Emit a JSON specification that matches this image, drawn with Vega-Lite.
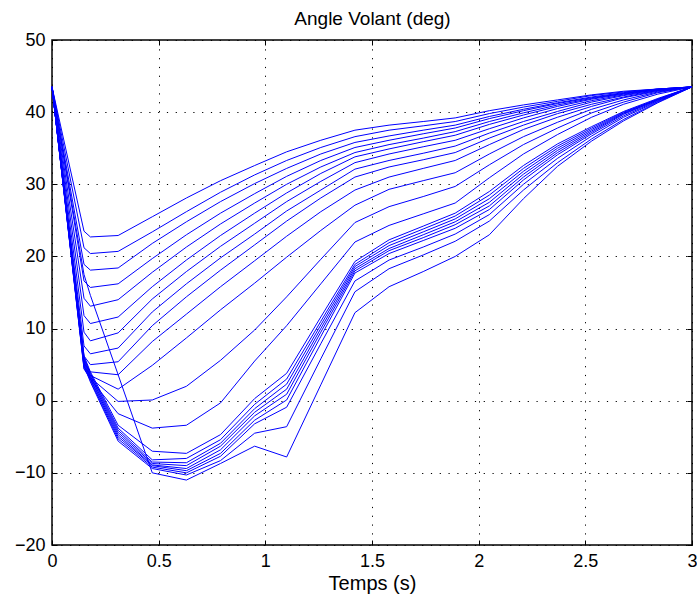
{
"$schema":"https://vega.github.io/schema/vega-lite/v6.json",
"width":640,"height":505,
"autosize":{"type":"none"},
"padding":{"left":52,"top":40,"right":5,"bottom":56},
"background":"white",
"config":{
 "view":{"stroke":"black","strokeWidth":1.5},
 "axis":{"labelFont":"Liberation Sans","labelFontSize":18,"labelColor":"black","titleFont":"Liberation Sans","titleFontSize":20,"titleFontWeight":"normal","titleColor":"black","tickColor":"black","tickSize":-5,"tickWidth":1,"domain":false,"gridColor":"black","gridDash":[1.2,7.6],"gridOpacity":1,"gridWidth":1}
},
"data":{"values":[
{"c":1,"t":0,"v":43.5},{"c":1,"t":0.15,"v":23.5},{"c":1,"t":0.18,"v":22.7},{"c":1,"t":0.31,"v":22.9},{"c":1,"t":0.47,"v":25.5},{"c":1,"t":0.63,"v":28.1},{"c":1,"t":0.79,"v":30.5},{"c":1,"t":0.95,"v":32.6},{"c":1,"t":1.1,"v":34.5},{"c":1,"t":1.26,"v":36.1},{"c":1,"t":1.42,"v":37.5},{"c":1,"t":1.58,"v":38.2},{"c":1,"t":1.74,"v":38.7},{"c":1,"t":1.89,"v":39.2},{"c":1,"t":2.05,"v":40.2},{"c":1,"t":2.21,"v":41.0},{"c":1,"t":2.37,"v":41.7},{"c":1,"t":2.53,"v":42.4},{"c":1,"t":2.68,"v":42.9},{"c":1,"t":2.84,"v":43.2},{"c":1,"t":3,"v":43.5},
{"c":2,"t":0,"v":43.5},{"c":2,"t":0.15,"v":21.2},{"c":2,"t":0.18,"v":20.4},{"c":2,"t":0.31,"v":20.7},{"c":2,"t":0.47,"v":23.4},{"c":2,"t":0.63,"v":26.2},{"c":2,"t":0.79,"v":28.9},{"c":2,"t":0.95,"v":31.3},{"c":2,"t":1.1,"v":33.3},{"c":2,"t":1.26,"v":35.1},{"c":2,"t":1.42,"v":36.6},{"c":2,"t":1.58,"v":37.5},{"c":2,"t":1.74,"v":38.1},{"c":2,"t":1.89,"v":38.7},{"c":2,"t":2.05,"v":39.8},{"c":2,"t":2.21,"v":40.7},{"c":2,"t":2.37,"v":41.5},{"c":2,"t":2.53,"v":42.3},{"c":2,"t":2.68,"v":42.8},{"c":2,"t":2.84,"v":43.2},{"c":2,"t":3,"v":43.5},
{"c":3,"t":0,"v":43.5},{"c":3,"t":0.15,"v":18.9},{"c":3,"t":0.18,"v":18.1},{"c":3,"t":0.31,"v":18.4},{"c":3,"t":0.47,"v":21.8},{"c":3,"t":0.63,"v":24.8},{"c":3,"t":0.79,"v":27.6},{"c":3,"t":0.95,"v":30.1},{"c":3,"t":1.1,"v":32.2},{"c":3,"t":1.26,"v":34.2},{"c":3,"t":1.42,"v":35.8},{"c":3,"t":1.58,"v":36.7},{"c":3,"t":1.74,"v":37.5},{"c":3,"t":1.89,"v":38.2},{"c":3,"t":2.05,"v":39.4},{"c":3,"t":2.21,"v":40.4},{"c":3,"t":2.37,"v":41.3},{"c":3,"t":2.53,"v":42.1},{"c":3,"t":2.68,"v":42.7},{"c":3,"t":2.84,"v":43.2},{"c":3,"t":3,"v":43.5},
{"c":4,"t":0,"v":43.5},{"c":4,"t":0.15,"v":16.6},{"c":4,"t":0.18,"v":15.7},{"c":4,"t":0.31,"v":16.2},{"c":4,"t":0.47,"v":19.7},{"c":4,"t":0.63,"v":23.0},{"c":4,"t":0.79,"v":26.0},{"c":4,"t":0.95,"v":28.7},{"c":4,"t":1.1,"v":31.1},{"c":4,"t":1.26,"v":33.3},{"c":4,"t":1.42,"v":35.1},{"c":4,"t":1.58,"v":36.1},{"c":4,"t":1.74,"v":37.0},{"c":4,"t":1.89,"v":37.8},{"c":4,"t":2.05,"v":39.1},{"c":4,"t":2.21,"v":40.2},{"c":4,"t":2.37,"v":41.2},{"c":4,"t":2.53,"v":42.0},{"c":4,"t":2.68,"v":42.6},{"c":4,"t":2.84,"v":43.2},{"c":4,"t":3,"v":43.5},
{"c":5,"t":0,"v":43.5},{"c":5,"t":0.15,"v":14.2},{"c":5,"t":0.18,"v":13.1},{"c":5,"t":0.31,"v":14.0},{"c":5,"t":0.47,"v":17.8},{"c":5,"t":0.63,"v":21.3},{"c":5,"t":0.79,"v":24.5},{"c":5,"t":0.95,"v":27.4},{"c":5,"t":1.1,"v":30.0},{"c":5,"t":1.26,"v":32.4},{"c":5,"t":1.42,"v":34.4},{"c":5,"t":1.58,"v":35.5},{"c":5,"t":1.74,"v":36.4},{"c":5,"t":1.89,"v":37.3},{"c":5,"t":2.05,"v":38.7},{"c":5,"t":2.21,"v":39.9},{"c":5,"t":2.37,"v":41.0},{"c":5,"t":2.53,"v":41.9},{"c":5,"t":2.68,"v":42.6},{"c":5,"t":2.84,"v":43.1},{"c":5,"t":3,"v":43.5},
{"c":6,"t":0,"v":43.5},{"c":6,"t":0.15,"v":11.8},{"c":6,"t":0.18,"v":10.7},{"c":6,"t":0.31,"v":11.6},{"c":6,"t":0.47,"v":15.8},{"c":6,"t":0.63,"v":19.5},{"c":6,"t":0.79,"v":22.9},{"c":6,"t":0.95,"v":26.0},{"c":6,"t":1.1,"v":28.8},{"c":6,"t":1.26,"v":31.5},{"c":6,"t":1.42,"v":33.8},{"c":6,"t":1.58,"v":34.9},{"c":6,"t":1.74,"v":35.9},{"c":6,"t":1.89,"v":36.8},{"c":6,"t":2.05,"v":38.3},{"c":6,"t":2.21,"v":39.6},{"c":6,"t":2.37,"v":40.8},{"c":6,"t":2.53,"v":41.8},{"c":6,"t":2.68,"v":42.5},{"c":6,"t":2.84,"v":43.1},{"c":6,"t":3,"v":43.5},
{"c":7,"t":0,"v":43.5},{"c":7,"t":0.15,"v":9.5},{"c":7,"t":0.18,"v":8.3},{"c":7,"t":0.31,"v":9.4},{"c":7,"t":0.47,"v":14.1},{"c":7,"t":0.63,"v":17.9},{"c":7,"t":0.79,"v":21.4},{"c":7,"t":0.95,"v":24.6},{"c":7,"t":1.1,"v":27.6},{"c":7,"t":1.26,"v":30.4},{"c":7,"t":1.42,"v":33.0},{"c":7,"t":1.58,"v":34.2},{"c":7,"t":1.74,"v":35.2},{"c":7,"t":1.89,"v":36.1},{"c":7,"t":2.05,"v":37.7},{"c":7,"t":2.21,"v":39.2},{"c":7,"t":2.37,"v":40.5},{"c":7,"t":2.53,"v":41.6},{"c":7,"t":2.68,"v":42.4},{"c":7,"t":2.84,"v":43.1},{"c":7,"t":3,"v":43.5},
{"c":8,"t":0,"v":43.5},{"c":8,"t":0.15,"v":7.6},{"c":8,"t":0.18,"v":6.5},{"c":8,"t":0.31,"v":7.3},{"c":8,"t":0.47,"v":12.3},{"c":8,"t":0.63,"v":16.2},{"c":8,"t":0.79,"v":19.8},{"c":8,"t":0.95,"v":23.1},{"c":8,"t":1.1,"v":26.3},{"c":8,"t":1.26,"v":29.2},{"c":8,"t":1.42,"v":32.1},{"c":8,"t":1.58,"v":33.3},{"c":8,"t":1.74,"v":34.3},{"c":8,"t":1.89,"v":35.3},{"c":8,"t":2.05,"v":37.1},{"c":8,"t":2.21,"v":38.7},{"c":8,"t":2.37,"v":40.1},{"c":8,"t":2.53,"v":41.4},{"c":8,"t":2.68,"v":42.3},{"c":8,"t":2.84,"v":43.0},{"c":8,"t":3,"v":43.5},
{"c":9,"t":0,"v":43.5},{"c":9,"t":0.15,"v":6.2},{"c":9,"t":0.18,"v":5.0},{"c":9,"t":0.31,"v":5.4},{"c":9,"t":0.47,"v":10.4},{"c":9,"t":0.63,"v":14.4},{"c":9,"t":0.79,"v":18.1},{"c":9,"t":0.95,"v":21.6},{"c":9,"t":1.1,"v":24.9},{"c":9,"t":1.26,"v":28.1},{"c":9,"t":1.42,"v":31.0},{"c":9,"t":1.58,"v":32.4},{"c":9,"t":1.74,"v":33.4},{"c":9,"t":1.89,"v":34.4},{"c":9,"t":2.05,"v":36.4},{"c":9,"t":2.21,"v":38.2},{"c":9,"t":2.37,"v":39.8},{"c":9,"t":2.53,"v":41.1},{"c":9,"t":2.68,"v":42.1},{"c":9,"t":2.84,"v":43.0},{"c":9,"t":3,"v":43.5},
{"c":10,"t":0,"v":43.5},{"c":10,"t":0.15,"v":5.2},{"c":10,"t":0.18,"v":4.0},{"c":10,"t":0.31,"v":3.6},{"c":10,"t":0.47,"v":8.2},{"c":10,"t":0.63,"v":12.0},{"c":10,"t":0.79,"v":15.8},{"c":10,"t":0.95,"v":19.4},{"c":10,"t":1.1,"v":22.8},{"c":10,"t":1.26,"v":26.2},{"c":10,"t":1.42,"v":29.2},{"c":10,"t":1.58,"v":31.0},{"c":10,"t":1.74,"v":32.2},{"c":10,"t":1.89,"v":33.3},{"c":10,"t":2.05,"v":35.5},{"c":10,"t":2.21,"v":37.6},{"c":10,"t":2.37,"v":39.3},{"c":10,"t":2.53,"v":40.8},{"c":10,"t":2.68,"v":42.0},{"c":10,"t":2.84,"v":42.9},{"c":10,"t":3,"v":43.5},
{"c":11,"t":0,"v":43.5},{"c":11,"t":0.15,"v":4.7},{"c":11,"t":0.18,"v":3.5},{"c":11,"t":0.31,"v":1.6},{"c":11,"t":0.47,"v":4.9},{"c":11,"t":0.63,"v":8.7},{"c":11,"t":0.79,"v":12.6},{"c":11,"t":0.95,"v":16.3},{"c":11,"t":1.1,"v":19.9},{"c":11,"t":1.26,"v":23.6},{"c":11,"t":1.42,"v":27.1},{"c":11,"t":1.58,"v":29.3},{"c":11,"t":1.74,"v":30.5},{"c":11,"t":1.89,"v":31.6},{"c":11,"t":2.05,"v":34.2},{"c":11,"t":2.21,"v":36.6},{"c":11,"t":2.37,"v":38.6},{"c":11,"t":2.53,"v":40.4},{"c":11,"t":2.68,"v":41.7},{"c":11,"t":2.84,"v":42.8},{"c":11,"t":3,"v":43.5},
{"c":12,"t":0,"v":43.5},{"c":12,"t":0.15,"v":4.5},{"c":12,"t":0.18,"v":3.2},{"c":12,"t":0.31,"v":-0.1},{"c":12,"t":0.47,"v":0.1},{"c":12,"t":0.63,"v":2.0},{"c":12,"t":0.79,"v":5.6},{"c":12,"t":0.95,"v":9.8},{"c":12,"t":1.1,"v":14.4},{"c":12,"t":1.26,"v":19.6},{"c":12,"t":1.42,"v":24.7},{"c":12,"t":1.58,"v":26.9},{"c":12,"t":1.74,"v":28.3},{"c":12,"t":1.89,"v":29.7},{"c":12,"t":2.05,"v":32.7},{"c":12,"t":2.21,"v":35.5},{"c":12,"t":2.37,"v":37.8},{"c":12,"t":2.53,"v":39.9},{"c":12,"t":2.68,"v":41.4},{"c":12,"t":2.84,"v":42.7},{"c":12,"t":3,"v":43.5},
{"c":13,"t":0,"v":43.5},{"c":13,"t":0.15,"v":4.4},{"c":13,"t":0.18,"v":3.0},{"c":13,"t":0.31,"v":-1.8},{"c":13,"t":0.47,"v":-3.8},{"c":13,"t":0.63,"v":-3.4},{"c":13,"t":0.79,"v":-0.3},{"c":13,"t":0.95,"v":5.5},{"c":13,"t":1.1,"v":10.4},{"c":13,"t":1.26,"v":16.2},{"c":13,"t":1.42,"v":22.0},{"c":13,"t":1.58,"v":24.3},{"c":13,"t":1.74,"v":25.9},{"c":13,"t":1.89,"v":27.4},{"c":13,"t":2.05,"v":30.9},{"c":13,"t":2.21,"v":34.2},{"c":13,"t":2.37,"v":36.9},{"c":13,"t":2.53,"v":39.3},{"c":13,"t":2.68,"v":41.1},{"c":13,"t":2.84,"v":42.5},{"c":13,"t":3,"v":43.5},
{"c":14,"t":0,"v":43.5},{"c":14,"t":0.15,"v":6.2},{"c":14,"t":0.18,"v":4.0},{"c":14,"t":0.31,"v":-3.4},{"c":14,"t":0.47,"v":-7.0},{"c":14,"t":0.63,"v":-7.3},{"c":14,"t":0.79,"v":-4.7},{"c":14,"t":0.95,"v":0.3},{"c":14,"t":1.1,"v":3.8},{"c":14,"t":1.26,"v":11.6},{"c":14,"t":1.42,"v":19.3},{"c":14,"t":1.58,"v":22.3},{"c":14,"t":1.74,"v":24.2},{"c":14,"t":1.89,"v":26.0},{"c":14,"t":2.05,"v":29.0},{"c":14,"t":2.21,"v":32.6},{"c":14,"t":2.37,"v":35.6},{"c":14,"t":2.53,"v":38.0},{"c":14,"t":2.68,"v":40.1},{"c":14,"t":2.84,"v":41.9},{"c":14,"t":3,"v":43.5},
{"c":15,"t":0,"v":43.5},{"c":15,"t":0.15,"v":6.0},{"c":15,"t":0.18,"v":3.8},{"c":15,"t":0.31,"v":-3.8},{"c":15,"t":0.47,"v":-8.2},{"c":15,"t":0.63,"v":-8.0},{"c":15,"t":0.79,"v":-5.4},{"c":15,"t":0.95,"v":-0.5},{"c":15,"t":1.1,"v":3.0},{"c":15,"t":1.26,"v":11.0},{"c":15,"t":1.42,"v":18.9},{"c":15,"t":1.58,"v":21.9},{"c":15,"t":1.74,"v":23.8},{"c":15,"t":1.89,"v":25.6},{"c":15,"t":2.05,"v":28.5},{"c":15,"t":2.21,"v":32.2},{"c":15,"t":2.37,"v":35.3},{"c":15,"t":2.53,"v":37.8},{"c":15,"t":2.68,"v":40.0},{"c":15,"t":2.84,"v":41.8},{"c":15,"t":3,"v":43.5},
{"c":16,"t":0,"v":43.5},{"c":16,"t":0.15,"v":5.8},{"c":16,"t":0.18,"v":3.6},{"c":16,"t":0.31,"v":-4.1},{"c":16,"t":0.47,"v":-8.5},{"c":16,"t":0.63,"v":-8.6},{"c":16,"t":0.79,"v":-5.9},{"c":16,"t":0.95,"v":-1.1},{"c":16,"t":1.1,"v":2.3},{"c":16,"t":1.26,"v":10.5},{"c":16,"t":1.42,"v":18.6},{"c":16,"t":1.58,"v":21.5},{"c":16,"t":1.74,"v":23.4},{"c":16,"t":1.89,"v":25.2},{"c":16,"t":2.05,"v":28.0},{"c":16,"t":2.21,"v":31.8},{"c":16,"t":2.37,"v":35.0},{"c":16,"t":2.53,"v":37.6},{"c":16,"t":2.68,"v":39.9},{"c":16,"t":2.84,"v":41.8},{"c":16,"t":3,"v":43.5},
{"c":17,"t":0,"v":43.5},{"c":17,"t":0.15,"v":5.6},{"c":17,"t":0.18,"v":3.4},{"c":17,"t":0.31,"v":-4.4},{"c":17,"t":0.47,"v":-8.7},{"c":17,"t":0.63,"v":-9.0},{"c":17,"t":0.79,"v":-6.3},{"c":17,"t":0.95,"v":-1.6},{"c":17,"t":1.1,"v":1.6},{"c":17,"t":1.26,"v":10.0},{"c":17,"t":1.42,"v":18.3},{"c":17,"t":1.58,"v":21.1},{"c":17,"t":1.74,"v":23.0},{"c":17,"t":1.89,"v":24.8},{"c":17,"t":2.05,"v":27.5},{"c":17,"t":2.21,"v":31.4},{"c":17,"t":2.37,"v":34.7},{"c":17,"t":2.53,"v":37.4},{"c":17,"t":2.68,"v":39.8},{"c":17,"t":2.84,"v":41.7},{"c":17,"t":3,"v":43.5},
{"c":18,"t":0,"v":43.5},{"c":18,"t":0.15,"v":5.4},{"c":18,"t":0.18,"v":3.2},{"c":18,"t":0.31,"v":-4.7},{"c":18,"t":0.47,"v":-8.9},{"c":18,"t":0.63,"v":-9.4},{"c":18,"t":0.79,"v":-6.8},{"c":18,"t":0.95,"v":-2.1},{"c":18,"t":1.1,"v":0.9},{"c":18,"t":1.26,"v":9.5},{"c":18,"t":1.42,"v":18.0},{"c":18,"t":1.58,"v":20.8},{"c":18,"t":1.74,"v":22.6},{"c":18,"t":1.89,"v":24.4},{"c":18,"t":2.05,"v":27.0},{"c":18,"t":2.21,"v":31.0},{"c":18,"t":2.37,"v":34.4},{"c":18,"t":2.53,"v":37.2},{"c":18,"t":2.68,"v":39.7},{"c":18,"t":2.84,"v":41.7},{"c":18,"t":3,"v":43.5},
{"c":19,"t":0,"v":43.5},{"c":19,"t":0.15,"v":5.2},{"c":19,"t":0.18,"v":3.0},{"c":19,"t":0.31,"v":-5.0},{"c":19,"t":0.47,"v":-9.0},{"c":19,"t":0.63,"v":-9.7},{"c":19,"t":0.79,"v":-7.3},{"c":19,"t":0.95,"v":-2.7},{"c":19,"t":1.1,"v":0.1},{"c":19,"t":1.26,"v":8.9},{"c":19,"t":1.42,"v":17.7},{"c":19,"t":1.58,"v":20.4},{"c":19,"t":1.74,"v":22.2},{"c":19,"t":1.89,"v":23.9},{"c":19,"t":2.05,"v":26.5},{"c":19,"t":2.21,"v":30.6},{"c":19,"t":2.37,"v":34.1},{"c":19,"t":2.53,"v":37.0},{"c":19,"t":2.68,"v":39.5},{"c":19,"t":2.84,"v":41.6},{"c":19,"t":3,"v":43.5},
{"c":20,"t":0,"v":43.5},{"c":20,"t":0.15,"v":5.0},{"c":20,"t":0.18,"v":2.8},{"c":20,"t":0.31,"v":-5.3},{"c":20,"t":0.47,"v":-9.2},{"c":20,"t":0.63,"v":-10.0},{"c":20,"t":0.79,"v":-7.7},{"c":20,"t":0.95,"v":-3.2},{"c":20,"t":1.1,"v":-0.9},{"c":20,"t":1.26,"v":7.9},{"c":20,"t":1.42,"v":16.6},{"c":20,"t":1.58,"v":19.5},{"c":20,"t":1.74,"v":21.3},{"c":20,"t":1.89,"v":23.1},{"c":20,"t":2.05,"v":25.8},{"c":20,"t":2.21,"v":30.0},{"c":20,"t":2.37,"v":33.6},{"c":20,"t":2.53,"v":36.7},{"c":20,"t":2.68,"v":39.3},{"c":20,"t":2.84,"v":41.5},{"c":20,"t":3,"v":43.5},
{"c":21,"t":0,"v":43.5},{"c":21,"t":0.15,"v":4.8},{"c":21,"t":0.18,"v":2.6},{"c":21,"t":0.31,"v":-5.6},{"c":21,"t":0.47,"v":-9.4},{"c":21,"t":0.63,"v":-10.3},{"c":21,"t":0.79,"v":-8.3},{"c":21,"t":0.95,"v":-4.5},{"c":21,"t":1.1,"v":-3.6},{"c":21,"t":1.26,"v":5.8},{"c":21,"t":1.42,"v":15.1},{"c":21,"t":1.58,"v":18.3},{"c":21,"t":1.74,"v":20.2},{"c":21,"t":1.89,"v":22.1},{"c":21,"t":2.05,"v":24.9},{"c":21,"t":2.21,"v":29.2},{"c":21,"t":2.37,"v":33.0},{"c":21,"t":2.53,"v":36.3},{"c":21,"t":2.68,"v":39.0},{"c":21,"t":2.84,"v":41.4},{"c":21,"t":3,"v":43.5},
{"c":22,"t":0,"v":43.5},{"c":22,"t":0.15,"v":17.5},{"c":22,"t":0.18,"v":14.6},{"c":22,"t":0.31,"v":3.6},{"c":22,"t":0.47,"v":-10.0},{"c":22,"t":0.63,"v":-11.0},{"c":22,"t":0.79,"v":-8.7},{"c":22,"t":0.95,"v":-6.3},{"c":22,"t":1.1,"v":-7.8},{"c":22,"t":1.26,"v":2.2},{"c":22,"t":1.42,"v":12.2},{"c":22,"t":1.58,"v":15.8},{"c":22,"t":1.74,"v":17.9},{"c":22,"t":1.89,"v":20.0},{"c":22,"t":2.05,"v":23.0},{"c":22,"t":2.21,"v":28.0},{"c":22,"t":2.37,"v":32.5},{"c":22,"t":2.53,"v":36.0},{"c":22,"t":2.68,"v":38.8},{"c":22,"t":2.84,"v":41.3},{"c":22,"t":3,"v":43.5}
]},
"layer":[
 {"mark":{"type":"line","color":"#0000ff","strokeWidth":1},
  "encoding":{
   "x":{"field":"t","type":"quantitative","scale":{"domain":[0,3],"nice":false,"zero":false},"axis":{"title":"Temps (s)","values":[0,0.5,1,1.5,2,2.5,3],"format":"~g","grid":true,"labelPadding":12,"titlePadding":3,"labelFlush":false}},
   "y":{"field":"v","type":"quantitative","scale":{"domain":[-20,50],"nice":false,"zero":false},"axis":{"title":null,"values":[-20,-10,0,10,20,30,40,50],"grid":true,"labelPadding":12,"labelFlush":false}},
   "detail":{"field":"c","type":"nominal"}
  }},
 {"mark":{"type":"line","opacity":0},
  "encoding":{
   "x":{"field":"t","type":"quantitative","axis":{"orient":"top","title":"Angle Volant (deg)","titleFontSize":19,"titleBaseline":"alphabetic","titlePadding":16,"labels":false,"grid":false,"minExtent":0,"maxExtent":0,"values":[0,0.5,1,1.5,2,2.5,3]}},
   "y":{"field":"v","type":"quantitative","axis":{"orient":"right","title":null,"labels":false,"grid":false,"minExtent":0,"maxExtent":0,"values":[-20,-10,0,10,20,30,40,50]}},
   "detail":{"field":"c","type":"nominal"}
  }}
],
"resolve":{"axis":{"x":"independent","y":"independent"}}
}
